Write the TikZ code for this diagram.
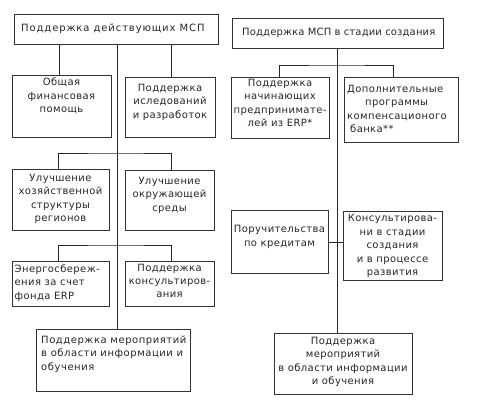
\documentclass[tikz,border=0pt]{standalone}
\usepackage{fontspec}
\setmainfont[LetterSpace=4]{DejaVu Sans}
\newfontfamily\titlefont[LetterSpace=9]{DejaVu Sans}
\newfontfamily\rtitlefont[LetterSpace=1.5]{DejaVu Sans}
\newfontfamily\widefont[LetterSpace=5.5]{DejaVu Sans}
\begin{document}
\begin{tikzpicture}[x=1pt,y=-1pt,
  box/.style={draw=black!80, line width=0.6pt, inner sep=0pt, anchor=north west},
  txt/.style={inner sep=0pt, font=\fontsize{10}{13.4}\selectfont, align=center, text=black!85},
  ltxt/.style={txt, align=left, anchor=west},
  wtxt/.style={ltxt, font=\widefont\fontsize{10}{13.4}\selectfont},
  conn/.style={draw=black!85, line width=0.6pt}]
\useasboundingbox (0,0) rectangle (487,415);
% left column boxes
\node[box, minimum width=204pt, minimum height=30pt] (LT) at (14,14) {};
\node[box, minimum width=99pt, minimum height=62pt] (A) at (12,75) {};
\node[box, minimum width=90pt, minimum height=60pt] (B) at (125,77) {};
\node[box, minimum width=97pt, minimum height=61pt] (C) at (12,169) {};
\node[box, minimum width=89pt, minimum height=60pt] (D) at (125,170) {};
\node[box, minimum width=97pt, minimum height=45pt] (E) at (12,261) {};
\node[box, minimum width=89pt, minimum height=45pt] (F) at (125,261) {};
\node[box, minimum width=154pt, minimum height=62pt] (LB) at (36,329) {};
% right column boxes
\node[box, minimum width=211pt, minimum height=30pt] (RT) at (232,18) {};
\node[box, minimum width=98pt, minimum height=61pt] (G) at (231,77) {};
\node[box, minimum width=114pt, minimum height=65pt] (H) at (344,77) {};
\node[box, minimum width=97pt, minimum height=63pt] (I) at (231,210) {};
\node[box, minimum width=99pt, minimum height=69pt] (J) at (343,211) {};
\node[box, minimum width=138pt, minimum height=61pt] (RB) at (274,333) {};
% texts
\node[ltxt, font=\titlefont\fontsize{10}{13.4}\selectfont] (LTt) at (21,29) {Поддержка действующих МСП};
\node[txt] (At) at (61.5,96) {Общая\\финансовая\\помощь};
\node[txt] (Bt) at (170,102) {Поддержка\\иследований\\и разработок};
\node[txt] (Ct) at (60.5,199) {Улучшение\\хозяйственной\\структуры\\регионов};
\node[txt] (Dt) at (169.5,195) {Улучшение\\окружающей\\среды};
\node[ltxt] (Et) at (14.5,283) {Энергосбереж-\\ения за счет\\фонда ERP};
\node[txt] (Ft) at (169.5,281) {Поддержка\\консультиров-\\ания};
\node[wtxt] (LBt) at (41,354) {Поддержка мероприятий\\в области информации и\\обучения};
\node[ltxt, font=\rtitlefont\fontsize{10}{13.4}\selectfont] (RTt) at (242,33) {Поддержка МСП в стадии создания};
\node[txt] (Gt) at (280,103) {Поддержка\\начинающих\\предпринимате-\\лей из ERP*};
\node[ltxt] (Ht) at (347,109) {Дополнительные\\\hspace*{18pt}программы\\компенсационого\\\hspace*{3pt}банка**};
\node[txt] (It) at (279.5,237) {Поручительства\\по кредитам};
\node[txt] (Jt) at (392.5,246) {Консультирова-\\ни в стадии\\создания\\и в процессе\\развития};
\node[txt] (RBt) at (343,362) {Поддержка\\мероприятий\\в области информации\\и обучения};
% left connectors
\coordinate (lbar1) at (117,153);
\coordinate (lbar2) at (117,245);
\draw[conn] ([xshift=1pt]LT.south) -- ([xshift=1pt]LT.south |- LB.north);
\draw[conn] ([xshift=-2.5pt]A.north) -- ([xshift=-2.5pt]A.north |- LT.south);
\draw[conn] ([xshift=1pt]B.north) -- ([xshift=1pt]B.north |- LT.south);
\draw[conn] ([xshift=-2.5pt]C.north) |- (lbar1) -| ([xshift=1.5pt]D.north);
\draw[conn] ([xshift=-2.5pt]E.north) |- (lbar2) -| ([xshift=1.5pt]F.north);
% right connectors
\coordinate (rbar) at (337,65);
\draw[conn] ([xshift=-0.5pt]RT.south) -- ([xshift=-0.5pt]RT.south |- RB.north);
\draw[conn] ([xshift=-1pt]G.north) |- (rbar) -| ([xshift=-8pt]H.north);
\draw[conn] (I.east) -- (I.east -| J.west);
\end{tikzpicture}
\end{document}
